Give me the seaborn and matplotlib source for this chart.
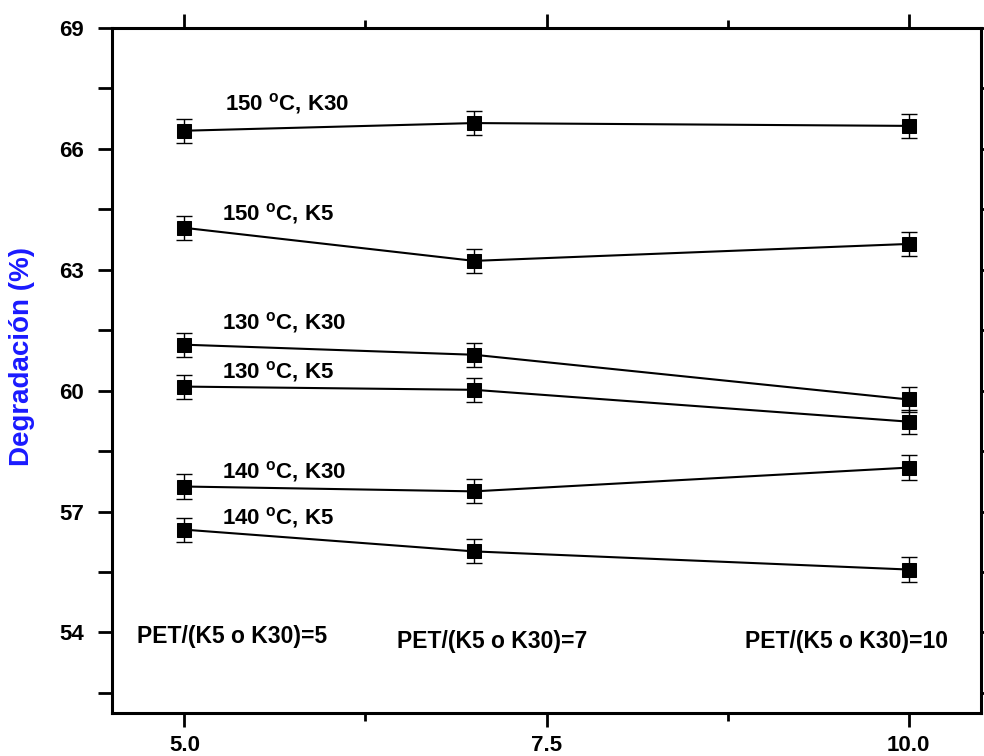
import matplotlib
matplotlib.use("Agg")
import matplotlib.pyplot as plt
from matplotlib.ticker import FixedLocator
import seaborn as sns
import pandas as pd

# ---- data ----
ratio = [5, 7, 10]
s150_k30 = [66.45, 66.64, 66.57]
s150_k5 = [64.04, 63.22, 63.64]
s130_k30 = [61.14, 60.89, 59.78]
s130_k5 = [60.10, 60.02, 59.23]
s140_k30 = [57.62, 57.50, 58.09]
s140_k5 = [56.55, 56.01, 55.56]
err = [0.3, 0.3, 0.3]
series_names = ["150 °C, K30", "150 °C, K5", "130 °C, K30", "130 °C, K5", "140 °C, K30", "140 °C, K5"]
series_vals = [s150_k30, s150_k5, s130_k30, s130_k5, s140_k30, s140_k5]
series_labels = ["150 $^{\\mathbf{o}}$C, K30", "150 $^{\\mathbf{o}}$C, K5",
                 "130 $^{\\mathbf{o}}$C, K30", "130 $^{\\mathbf{o}}$C, K5",
                 "140 $^{\\mathbf{o}}$C, K30", "140 $^{\\mathbf{o}}$C, K5"]
label_pos = [(5.28, 67.12), (5.26, 64.39), (5.26, 61.69), (5.26, 60.47), (5.26, 57.99), (5.26, 56.85)]
ratio_labels = ["PET/(K5 o K30)=5", "PET/(K5 o K30)=7", "PET/(K5 o K30)=10"]
ratio_label_pos = [(4.67, 53.9), (6.47, 53.77), (8.87, 53.77)]
xticks = [5.0, 7.5, 10.0]
yticks = [54, 57, 60, 63, 66, 69]

sns.set_style("ticks")
plt.rcParams["font.family"] = ["Liberation Sans", "DejaVu Sans"]
plt.rcParams["font.weight"] = "bold"
plt.rcParams["mathtext.fontset"] = "custom"
plt.rcParams["mathtext.bf"] = "Liberation Sans:bold"
plt.rcParams["mathtext.rm"] = "Liberation Sans:bold"
for key in ["text.color", "axes.labelcolor", "xtick.color", "ytick.color", "axes.edgecolor"]:
    plt.rcParams[key] = "black"

fig = plt.figure(figsize=(9.84, 7.56), dpi=100)
ax = fig.add_axes([0.1138, 0.0569, 0.997 - 0.1138, 0.963 - 0.0569])

rows = []
for name, vals in zip(series_names, series_vals):
    for xv, yv in zip(ratio, vals):
        rows.append({"ratio": xv, "deg": yv, "serie": name})
df = pd.DataFrame(rows)

sns.lineplot(data=df, x="ratio", y="deg", units="serie", estimator=None,
             color="black", marker="s", markersize=10, markeredgecolor="black",
             linewidth=1.5, ax=ax)
for vals in series_vals:
    ax.errorbar(ratio, vals, yerr=err, fmt="none", ecolor="black",
                elinewidth=1.0, capsize=6, capthick=1.0, zorder=3)

for lab, (px, py) in zip(series_labels, label_pos):
    ax.text(px, py, lab, fontsize=16, fontweight="bold", va="center", ha="left", color="black")
for lab, (px, py) in zip(ratio_labels, ratio_label_pos):
    ax.text(px, py, lab, fontsize=16.5, fontweight="bold", va="center", ha="left", color="black")

ax.set_xlim(4.5, 10.5)
ax.set_ylim(52, 69)
ax.xaxis.set_major_locator(FixedLocator(xticks))
ax.xaxis.set_minor_locator(FixedLocator([6.25, 8.75]))
ax.yaxis.set_major_locator(FixedLocator(yticks))
ax.yaxis.set_minor_locator(FixedLocator([52.5, 55.5, 58.5, 61.5, 64.5, 67.5]))
ax.set_xticklabels(["5.0", "7.5", "10.0"])
ax.set_yticklabels([str(v) for v in yticks])
ax.tick_params(which="both", direction="out", top=True, right=True, width=2,
               labelsize=16, color="black", labelcolor="black")
ax.tick_params(which="major", length=10)
ax.tick_params(axis="y", which="minor", length=10)
ax.tick_params(axis="x", which="minor", length=6)
ax.tick_params(axis="x", pad=6)
ax.tick_params(axis="y", pad=10)
for lbl in ax.get_xticklabels() + ax.get_yticklabels():
    lbl.set_fontweight("bold")
for sp in ax.spines.values():
    sp.set_linewidth(2.2)
    sp.set_color("black")
    sp.set_visible(True)

ax.set_xlabel("")
ax.set_ylabel("Degradación (%)", fontsize=20, fontweight="bold", color="#1a1aff")
ax.yaxis.set_label_coords(-0.089, 0.52)

fig.savefig("out.png", dpi=100)
